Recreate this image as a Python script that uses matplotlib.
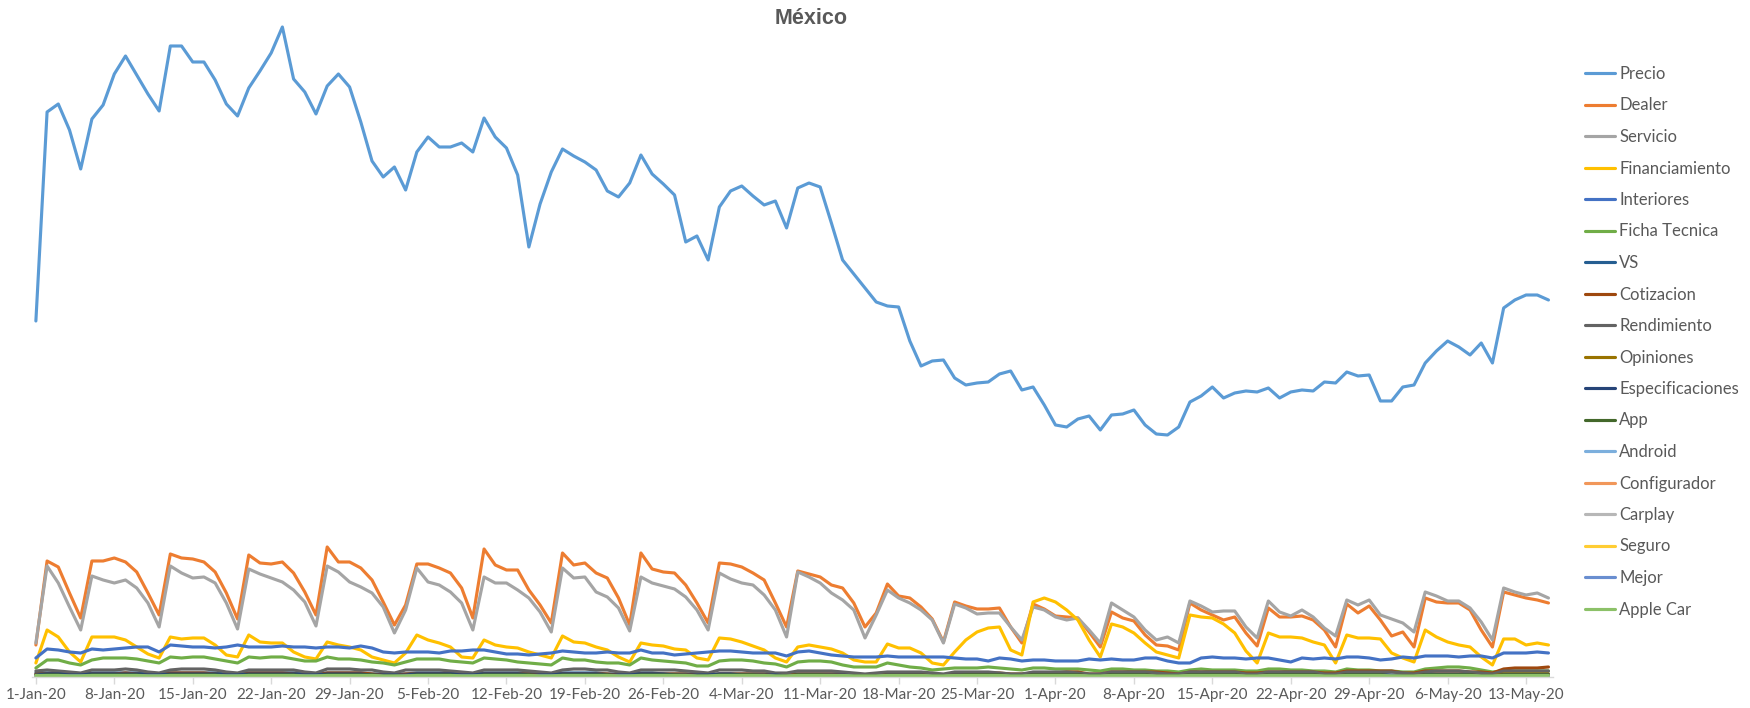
import matplotlib.pyplot as plt
import pandas as pd

# daily data, 1-Jan-2020 .. 15-May-2020
dates = pd.date_range('2020-01-01', periods=136, freq='D')

precio = [
    356, 565, 573, 547, 508, 558, 572,
    603, 621, 602, 583, 566, 631, 631,
    615, 615, 597, 573, 561, 589, 606,
    624, 650, 598, 585, 563, 591, 603,
    590, 555, 516, 500, 510, 487, 525,
    540, 530, 530, 534, 525, 559, 540,
    529, 502, 430, 473, 505, 528, 521,
    515, 507, 486, 480, 494, 522, 503,
    493, 482, 435, 441, 417, 470, 486,
    491, 481, 472, 476, 449, 489, 494,
    490, 454, 417, 403, 389, 375, 371,
    370, 336, 311, 316, 317, 299, 292,
    294, 295, 303, 306, 287, 290, 272,
    252, 250, 258, 261, 247, 262, 263,
    267, 252, 243, 242, 250, 275, 281,
    290, 279, 284, 286, 285, 289, 279,
    285, 287, 286, 295, 294, 305, 301,
    302, 276, 276, 290, 292, 314, 326,
    336, 330, 322, 334, 314, 369, 377,
    382, 382, 377]

dealer = [
    32, 116, 110, 84, 59, 116, 116,
    119, 115, 105, 84, 62, 123, 119,
    118, 115, 105, 84, 58, 122, 114,
    113, 115, 104, 85, 62, 130, 115,
    115, 109, 97, 75, 52, 72, 113,
    113, 109, 104, 89, 59, 128, 112,
    107, 107, 87, 72, 54, 124, 112,
    114, 104, 99, 79, 52, 124, 108,
    105, 104, 92, 74, 54, 114, 113,
    110, 104, 97, 74, 50, 106, 103,
    100, 92, 89, 74, 50, 64, 93,
    81, 79, 70, 58, 35, 75, 71,
    68, 68, 69, 50, 34, 73, 68,
    61, 60, 59, 45, 30, 65, 59,
    56, 42, 32, 31, 27, 74, 67,
    62, 57, 60, 44, 31, 69, 60,
    60, 61, 57, 47, 30, 73, 64,
    71, 57, 41, 45, 30, 79, 75,
    74, 74, 67, 47, 30, 85, 82,
    79, 77, 74]

servicio = [
    34, 111, 94, 70, 47, 101, 97,
    94, 97, 89, 74, 50, 111, 104,
    99, 100, 94, 74, 48, 108, 103,
    99, 95, 87, 75, 51, 111, 105,
    95, 90, 84, 70, 44, 67, 109,
    95, 92, 85, 74, 47, 100, 94,
    94, 87, 79, 65, 45, 109, 99,
    100, 85, 80, 69, 46, 100, 94,
    91, 88, 80, 67, 47, 104, 98,
    94, 92, 82, 67, 40, 105, 100,
    94, 84, 77, 67, 39, 62, 87,
    79, 74, 67, 57, 34, 73, 69,
    63, 64, 64, 50, 37, 70, 67,
    60, 57, 59, 47, 34, 74, 67,
    60, 47, 37, 40, 34, 76, 71,
    65, 66, 66, 50, 39, 76, 65,
    61, 67, 60, 49, 41, 77, 72,
    77, 62, 58, 54, 45, 85, 81,
    76, 76, 69, 55, 37, 89, 85,
    82, 84, 79]

financiamiento = [
    14, 47, 40, 25, 15, 40, 40,
    40, 37, 30, 23, 19, 40, 38,
    39, 39, 32, 22, 20, 42, 35,
    34, 34, 25, 20, 18, 35, 32,
    30, 27, 20, 17, 14, 24, 42,
    37, 34, 30, 20, 19, 37, 32,
    30, 29, 25, 22, 19, 41, 35,
    34, 30, 27, 20, 15, 34, 32,
    31, 28, 27, 19, 17, 39, 38,
    35, 31, 27, 19, 15, 30, 32,
    30, 28, 24, 17, 15, 15, 33,
    29, 29, 24, 14, 12, 25, 37,
    45, 49, 50, 27, 22, 75, 79,
    75, 67, 57, 37, 20, 53, 50,
    44, 34, 25, 22, 19, 62, 60,
    59, 53, 44, 26, 14, 44, 40,
    40, 39, 35, 32, 14, 42, 39,
    39, 38, 24, 19, 15, 47, 40,
    35, 32, 30, 20, 12, 38, 38,
    32, 34, 32]

interiores = [
    19, 28, 27, 25, 24, 28, 27,
    28, 29, 30, 30, 25, 32, 31,
    30, 30, 29, 30, 32, 30, 30,
    30, 31, 30, 30, 29, 30, 30,
    29, 31, 29, 25, 24, 25, 25,
    25, 24, 26, 26, 27, 27, 25,
    23, 23, 22, 23, 24, 26, 25,
    24, 24, 25, 24, 24, 27, 24,
    24, 22, 23, 24, 25, 26, 26,
    25, 24, 24, 24, 21, 25, 26,
    24, 22, 21, 20, 20, 20, 21,
    20, 20, 20, 20, 20, 19, 18,
    18, 16, 19, 18, 16, 17, 17,
    16, 16, 16, 18, 17, 18, 17,
    17, 19, 19, 16, 14, 14, 19,
    20, 19, 19, 18, 19, 19, 17,
    15, 19, 18, 19, 18, 20, 20,
    19, 17, 18, 20, 19, 21, 21,
    21, 20, 21, 21, 19, 24, 24,
    24, 25, 24]

ficha_tecnica = [
    9, 17, 17, 14, 12, 17, 19,
    19, 19, 18, 16, 14, 20, 19,
    20, 20, 18, 16, 14, 20, 19,
    20, 20, 18, 16, 16, 20, 18,
    18, 17, 15, 14, 12, 15, 18,
    18, 18, 16, 15, 14, 19, 18,
    17, 15, 14, 13, 12, 19, 17,
    17, 15, 14, 14, 12, 19, 17,
    16, 15, 14, 11, 11, 16, 17,
    17, 16, 14, 13, 10, 15, 16,
    16, 15, 12, 10, 10, 10, 14,
    12, 10, 9, 7, 8, 9, 9,
    9, 10, 9, 8, 7, 9, 9,
    8, 8, 8, 7, 6, 8, 8,
    7, 7, 6, 6, 5, 7, 8,
    7, 7, 7, 6, 6, 8, 8,
    7, 7, 6, 6, 5, 8, 7,
    7, 6, 6, 5, 5, 8, 9,
    10, 10, 9, 7, 5, 6, 6,
    6, 6, 6]

vs = [
    4, 4, 4, 3, 3, 4, 4,
    4, 4, 4, 3, 3, 4, 4,
    4, 4, 4, 3, 3, 4, 4,
    4, 4, 4, 3, 3, 4, 4,
    4, 4, 3, 3, 3, 3, 4,
    4, 4, 4, 3, 3, 4, 4,
    4, 4, 4, 3, 3, 4, 4,
    4, 4, 3, 3, 3, 4, 4,
    3, 3, 3, 2, 2, 3, 3,
    3, 3, 3, 2, 2, 3, 3,
    3, 3, 3, 2, 2, 2, 3,
    3, 3, 3, 2, 2, 3, 3,
    3, 3, 3, 2, 2, 3, 3,
    3, 3, 3, 2, 2, 3, 3,
    3, 3, 2, 2, 2, 3, 3,
    3, 3, 3, 2, 2, 3, 3,
    3, 3, 3, 2, 2, 3, 3,
    3, 3, 2, 2, 2, 3, 3,
    3, 3, 3, 2, 2, 3, 3,
    3, 3, 3]

cotizacion = [
    3, 3, 3, 2, 2, 3, 3,
    3, 4, 3, 2, 2, 4, 4,
    4, 4, 3, 2, 2, 4, 4,
    4, 4, 3, 2, 2, 4, 4,
    4, 4, 3, 2, 2, 3, 3,
    3, 3, 3, 2, 2, 3, 3,
    3, 3, 3, 2, 2, 3, 3,
    3, 3, 3, 2, 2, 3, 3,
    3, 3, 3, 2, 2, 3, 3,
    3, 3, 3, 2, 2, 3, 3,
    3, 3, 3, 2, 2, 3, 3,
    3, 3, 3, 2, 2, 3, 4,
    4, 4, 4, 3, 3, 4, 4,
    4, 5, 5, 3, 3, 5, 5,
    5, 5, 5, 4, 3, 5, 5,
    5, 5, 5, 4, 4, 5, 5,
    5, 5, 5, 4, 4, 6, 6,
    6, 6, 6, 4, 4, 6, 6,
    6, 6, 5, 5, 4, 8, 9,
    9, 9, 10]

rendimiento = [
    6, 7, 6, 5, 4, 7, 7,
    7, 8, 7, 5, 4, 7, 8,
    8, 8, 7, 5, 4, 7, 7,
    7, 7, 7, 5, 4, 8, 8,
    8, 7, 7, 5, 4, 7, 7,
    7, 7, 6, 5, 4, 7, 7,
    7, 7, 6, 5, 4, 7, 8,
    8, 7, 7, 5, 4, 7, 7,
    7, 7, 6, 5, 4, 7, 7,
    7, 6, 6, 4, 4, 6, 6,
    6, 6, 5, 4, 3, 4, 5,
    5, 5, 5, 4, 3, 5, 5,
    5, 5, 4, 3, 3, 5, 5,
    5, 5, 4, 3, 3, 5, 5,
    5, 5, 4, 3, 3, 5, 5,
    5, 5, 5, 3, 3, 5, 5,
    5, 5, 5, 3, 3, 5, 5,
    5, 5, 5, 4, 3, 5, 6,
    6, 6, 5, 4, 3, 6, 6,
    6, 6, 6]

opiniones = [
    2, 2, 2, 1, 1, 2, 2,
    2, 2, 2, 1, 1, 2, 2,
    2, 2, 2, 1, 1, 2, 2,
    2, 2, 2, 1, 1, 2, 2,
    2, 2, 2, 1, 1, 1, 2,
    2, 2, 2, 1, 1, 2, 2,
    2, 2, 2, 1, 1, 2, 2,
    2, 2, 2, 1, 1, 2, 2,
    2, 2, 2, 1, 1, 2, 2,
    2, 2, 2, 1, 1, 2, 2,
    2, 2, 1, 1, 1, 1, 2,
    2, 2, 2, 1, 1, 2, 2,
    2, 2, 2, 1, 1, 2, 2,
    2, 2, 2, 1, 1, 2, 2,
    2, 2, 1, 1, 1, 2, 2,
    2, 2, 2, 1, 1, 2, 2,
    2, 2, 2, 1, 1, 2, 2,
    2, 2, 1, 1, 1, 2, 2,
    2, 2, 2, 1, 1, 3, 3,
    3, 3, 3]

especificaciones = [
    2, 3, 3, 2, 2, 3, 3,
    3, 3, 3, 2, 2, 3, 3,
    3, 3, 3, 2, 2, 3, 3,
    3, 3, 3, 2, 2, 3, 3,
    3, 3, 2, 2, 2, 2, 3,
    3, 3, 3, 2, 2, 3, 3,
    3, 3, 2, 2, 2, 3, 3,
    3, 3, 2, 2, 2, 3, 3,
    3, 2, 2, 2, 2, 3, 3,
    2, 2, 2, 2, 1, 2, 2,
    2, 2, 2, 1, 1, 1, 2,
    2, 2, 2, 1, 1, 2, 2,
    2, 2, 2, 1, 1, 2, 2,
    2, 2, 2, 1, 1, 2, 2,
    2, 2, 1, 1, 1, 2, 2,
    2, 2, 2, 1, 1, 2, 2,
    2, 2, 2, 1, 1, 2, 2,
    2, 2, 1, 1, 1, 2, 2,
    2, 2, 2, 1, 1, 2, 2,
    2, 2, 2]

app = [
    1, 2, 2, 1, 1, 2, 2,
    2, 2, 2, 1, 1, 2, 2,
    2, 2, 2, 1, 1, 2, 2,
    2, 2, 2, 1, 1, 2, 2,
    2, 2, 2, 1, 1, 1, 2,
    2, 2, 2, 1, 1, 2, 2,
    2, 2, 2, 1, 1, 2, 2,
    2, 2, 2, 1, 1, 2, 2,
    2, 2, 1, 1, 1, 2, 2,
    2, 2, 1, 1, 1, 2, 2,
    2, 1, 1, 1, 1, 1, 1,
    1, 1, 1, 1, 1, 1, 2,
    2, 2, 2, 1, 1, 2, 2,
    2, 2, 2, 1, 1, 2, 2,
    2, 2, 1, 1, 1, 2, 2,
    2, 2, 2, 1, 1, 2, 2,
    2, 2, 2, 1, 1, 2, 2,
    2, 2, 1, 1, 1, 2, 2,
    2, 2, 2, 1, 1, 2, 2,
    2, 2, 2]

android = [
    1, 1, 1, 1, 1, 1, 1,
    1, 1, 1, 1, 1, 1, 1,
    1, 1, 1, 1, 1, 1, 1,
    1, 1, 1, 1, 1, 1, 1,
    1, 1, 1, 0.5, 0.5, 1, 1,
    1, 1, 1, 1, 1, 1, 1,
    1, 1, 1, 1, 1, 1, 1,
    1, 1, 1, 1, 1, 1, 1,
    1, 1, 1, 0.5, 0.5, 1, 1,
    1, 1, 1, 0.5, 0.5, 1, 1,
    1, 1, 1, 0.5, 0.5, 0.5, 1,
    1, 1, 1, 0.5, 0.5, 1, 1,
    1, 1, 1, 0.5, 0.5, 1, 1,
    1, 1, 1, 0.5, 0.5, 1, 1,
    1, 1, 0.5, 0.5, 0.5, 1, 1,
    1, 1, 1, 0.5, 0.5, 1, 1,
    1, 1, 1, 0.5, 0.5, 1, 1,
    1, 1, 1, 0.5, 0.5, 1, 1,
    1, 1, 1, 0.5, 0.5, 1, 1,
    1, 1, 1]

configurador = [
    1, 1, 1, 0.5, 0.5, 1, 1,
    1, 1, 1, 0.5, 0.5, 1, 1,
    1, 1, 1, 0.5, 0.5, 1, 1,
    1, 1, 1, 0.5, 0.5, 1, 1,
    1, 1, 1, 0.5, 0.5, 0.5, 1,
    1, 1, 1, 0.5, 0.5, 1, 1,
    1, 1, 1, 0.5, 0.5, 1, 1,
    1, 1, 1, 0.5, 0.5, 1, 1,
    1, 1, 1, 0.5, 0.5, 1, 1,
    1, 1, 1, 0.5, 0.5, 1, 1,
    1, 1, 0.5, 0.5, 0.5, 0.5, 1,
    1, 1, 1, 0.5, 0.5, 1, 1,
    1, 1, 1, 0.5, 0.5, 1, 1,
    1, 1, 1, 0.5, 0.5, 1, 1,
    1, 1, 0.5, 0.5, 0.5, 1, 1,
    1, 1, 1, 0.5, 0.5, 1, 1,
    1, 1, 1, 0.5, 0.5, 1, 1,
    1, 1, 0.5, 0.5, 0.5, 1, 1,
    1, 1, 1, 0.5, 0.5, 1, 1,
    1, 1, 1]

carplay = [
    0.5, 0.5, 0.5, 0.3, 0.3, 0.5, 0.5,
    0.5, 0.5, 0.5, 0.3, 0.3, 0.5, 0.5,
    0.5, 0.5, 0.5, 0.3, 0.3, 0.5, 0.5,
    0.5, 0.5, 0.5, 0.3, 0.3, 0.5, 0.5,
    0.5, 0.5, 0.5, 0.3, 0.3, 0.3, 0.5,
    0.5, 0.5, 0.5, 0.3, 0.3, 0.5, 0.5,
    0.5, 0.5, 0.5, 0.3, 0.3, 0.5, 0.5,
    0.5, 0.5, 0.5, 0.3, 0.3, 0.5, 0.5,
    0.5, 0.5, 0.5, 0.3, 0.3, 0.5, 0.5,
    0.5, 0.5, 0.5, 0.3, 0.3, 0.5, 0.5,
    0.5, 0.5, 0.5, 0.3, 0.3, 0.3, 0.5,
    0.5, 0.5, 0.5, 0.3, 0.3, 0.5, 0.5,
    0.5, 0.5, 0.5, 0.3, 0.3, 0.5, 0.5,
    0.5, 0.5, 0.5, 0.3, 0.3, 0.5, 0.5,
    0.5, 0.5, 0.3, 0.3, 0.3, 0.5, 0.5,
    0.5, 0.5, 0.5, 0.3, 0.3, 0.5, 0.5,
    0.5, 0.5, 0.5, 0.3, 0.3, 0.5, 0.5,
    0.5, 0.5, 0.3, 0.3, 0.3, 0.5, 0.5,
    0.5, 0.5, 0.5, 0.3, 0.3, 0.5, 0.5,
    0.5, 0.5, 0.5]

seguro = [
    0.6, 0.6, 0.6, 0.4, 0.4, 0.6, 0.6,
    0.6, 0.6, 0.6, 0.4, 0.4, 0.6, 0.6,
    0.6, 0.6, 0.6, 0.4, 0.4, 0.6, 0.6,
    0.6, 0.6, 0.6, 0.4, 0.4, 0.6, 0.6,
    0.6, 0.6, 0.6, 0.4, 0.4, 0.4, 0.6,
    0.6, 0.6, 0.6, 0.4, 0.4, 0.6, 0.6,
    0.6, 0.6, 0.6, 0.4, 0.4, 0.6, 0.6,
    0.6, 0.6, 0.6, 0.4, 0.4, 0.6, 0.6,
    0.6, 0.6, 0.6, 0.4, 0.4, 0.6, 0.6,
    0.6, 0.6, 0.6, 0.4, 0.4, 0.6, 0.6,
    0.6, 0.6, 0.6, 0.4, 0.4, 0.4, 0.6,
    0.6, 0.6, 0.6, 0.4, 0.4, 0.6, 0.6,
    0.6, 0.6, 0.6, 0.4, 0.4, 0.6, 0.6,
    0.6, 0.6, 0.6, 0.4, 0.4, 0.6, 0.6,
    0.6, 0.6, 0.4, 0.4, 0.4, 0.6, 0.6,
    0.6, 0.6, 0.6, 0.4, 0.4, 0.6, 0.6,
    0.6, 0.6, 0.6, 0.4, 0.4, 0.6, 0.6,
    0.6, 0.6, 0.4, 0.4, 0.4, 0.6, 0.6,
    0.6, 0.6, 0.6, 0.4, 0.4, 0.6, 0.6,
    0.6, 0.6, 0.6]

mejor = [
    1, 1, 1, 0.5, 0.5, 1, 1,
    1, 1, 1, 0.5, 0.5, 1, 1,
    1, 1, 1, 0.5, 0.5, 1, 1,
    1, 1, 1, 0.5, 0.5, 1, 1,
    1, 1, 1, 0.5, 0.5, 0.5, 1,
    1, 1, 1, 0.5, 0.5, 1, 1,
    1, 1, 1, 0.5, 0.5, 1, 1,
    1, 1, 1, 0.5, 0.5, 1, 1,
    1, 1, 1, 0.5, 0.5, 1, 1,
    1, 1, 1, 0.5, 0.5, 1, 1,
    1, 1, 1, 0.5, 0.5, 0.5, 1,
    1, 1, 1, 0.5, 0.5, 1, 1,
    1, 1, 1, 0.5, 0.5, 1, 1,
    1, 1, 1, 0.5, 0.5, 1, 1,
    1, 1, 0.5, 0.5, 0.5, 1, 1,
    1, 1, 1, 0.5, 0.5, 1, 1,
    1, 1, 1, 0.5, 0.5, 1, 1,
    1, 1, 0.5, 0.5, 0.5, 1, 1,
    1, 1, 1, 0.5, 0.5, 1, 1,
    1, 1, 1]

apple_car = [
    1.5, 1.5, 1.5, 1, 1, 1.5, 1.5,
    1.5, 1.5, 1.5, 1, 1, 1.5, 1.5,
    1.5, 1.5, 1.5, 1, 1, 1.5, 1.5,
    1.5, 1.5, 1.5, 1, 1, 1.5, 1.5,
    1.5, 1.5, 1.5, 1, 1, 1, 1.5,
    1.5, 1.5, 1.5, 1, 1, 1.5, 1.5,
    1.5, 1.5, 1.5, 1, 1, 1.5, 1.5,
    1.5, 1.5, 1.5, 1, 1, 1.5, 1.5,
    1.5, 1.5, 1.5, 1, 1, 1.5, 1.5,
    1.5, 1.5, 1.5, 1, 1, 1.5, 1.5,
    1.5, 1.5, 1.5, 1, 1, 1, 1.5,
    1.5, 1.5, 1.5, 1, 1, 1.5, 1.5,
    1.5, 1.5, 1.5, 1, 1, 1.5, 1.5,
    1.5, 1.5, 1.5, 1, 1, 1.5, 1.5,
    1.5, 1.5, 1, 1, 1, 1.5, 1.5,
    1.5, 1.5, 1.5, 1, 1, 1.5, 1.5,
    1.5, 1.5, 1.5, 1, 1, 1.5, 1.5,
    1.5, 1.5, 1, 1, 1, 1.5, 1.5,
    1.5, 1.5, 1.5, 1, 1, 1.5, 1.5,
    1.5, 1.5, 1.5]

series = [
    ('Precio', precio, '#5B9BD5'),
    ('Dealer', dealer, '#ED7D31'),
    ('Servicio', servicio, '#A5A5A5'),
    ('Financiamiento', financiamiento, '#FFC000'),
    ('Interiores', interiores, '#4472C4'),
    ('Ficha Tecnica', ficha_tecnica, '#70AD47'),
    ('VS', vs, '#255E91'),
    ('Cotizacion', cotizacion, '#9E480E'),
    ('Rendimiento', rendimiento, '#636363'),
    ('Opiniones', opiniones, '#997300'),
    ('Especificaciones', especificaciones, '#264478'),
    ('App', app, '#43682B'),
    ('Android', android, '#7CAFDD'),
    ('Configurador', configurador, '#F1975A'),
    ('Carplay', carplay, '#B7B7B7'),
    ('Seguro', seguro, '#FFCD33'),
    ('Mejor', mejor, '#698ED0'),
    ('Apple Car', apple_car, '#8CC168'),
]

fig = plt.figure(figsize=(17.5, 7.08), dpi=100)
ax = fig.add_axes([0.0181, 0.0438, 0.8693, 0.9322])

for name, vals, col in series:
    ax.plot(dates, vals, color=col, lw=2.25, label=name,
            solid_joinstyle='round', solid_capstyle='round')

ax.set_ylim(0, 660)
ax.set_xlim(dates[0] - pd.Timedelta(hours=9), dates[0] + pd.Timedelta(days=135.4))

ticks = dates[::7]
ax.set_xticks(ticks)
ax.set_xticklabels([f'{d.day}-{d:%b-%y}' for d in ticks],
                   fontsize=11, color='#595959', family='Lato')
ax.set_yticks([])
for s in ['left', 'right', 'top']:
    ax.spines[s].set_visible(False)
ax.spines['bottom'].set_color('#D9D9D9')
ax.spines['bottom'].set_linewidth(1)
ax.tick_params(axis='x', length=5, width=1, color='#D9D9D9', pad=3)

fig.text(811 / 1750, 1 - 18 / 708, 'México', ha='center', va='center',
         fontsize=15.5, fontweight='bold', color='#595959', family='Liberation Sans')

fig.legend(loc='upper left', bbox_to_anchor=(1585 / 1750, 1 - 66 / 708),
           frameon=False, prop={'family': 'Lato', 'size': 12}, labelcolor='#595959',
           handlelength=1.8, handletextpad=0.25, labelspacing=0.93,
           borderpad=0, borderaxespad=0)

fig.savefig('out.png', dpi=100)
